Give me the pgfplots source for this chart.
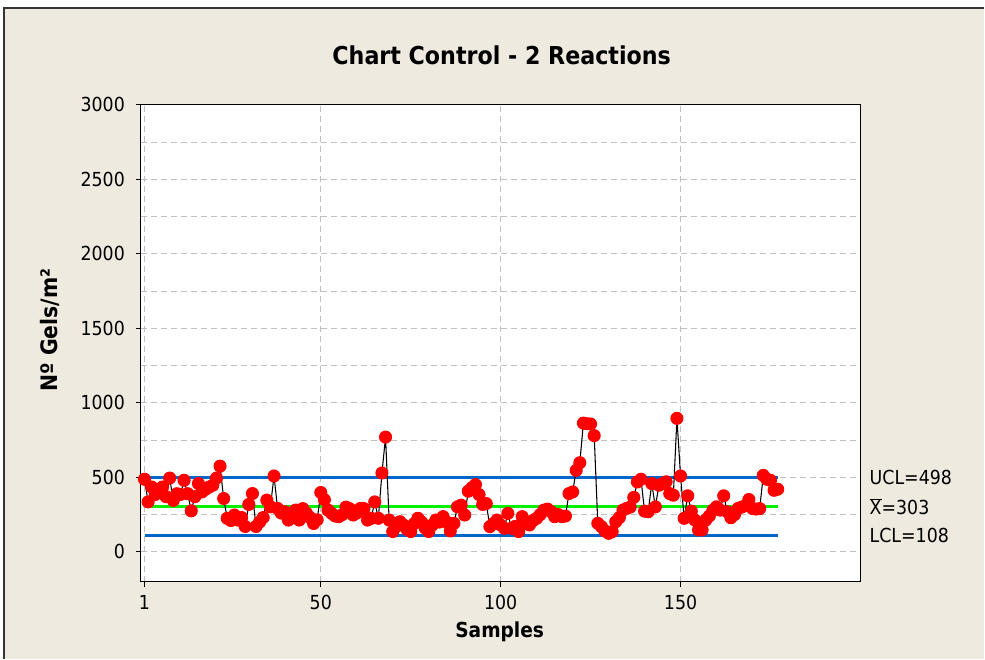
\documentclass[border=0pt]{standalone}
\usepackage{fontspec}
\setmainfont{DejaVu Sans Condensed}
\usepackage{pgfplots}
\pgfplotsset{compat=1.18}
\definecolor{bgbeige}{RGB}{238,234,224}
\definecolor{ctrlblue}{RGB}{0,102,204}
\definecolor{ctrlgreen}{RGB}{0,240,0}
\definecolor{gridgray}{RGB}{192,192,192}
\begin{document}
\begin{tikzpicture}
\fill[white] (-105.75pt,-57.75pt) rectangle (633pt,436.5pt);
\fill[bgbeige] (-102.75pt,-57.75pt) rectangle (633pt,430.5pt);
\draw[black!80, line width=1pt] (-102.75pt,-57.75pt) -- (-102.75pt,430.5pt) -- (633pt,430.5pt);
\begin{axis}[
  scale only axis,
  width=540pt, height=357.75pt,
  xmin=0, xmax=200, ymin=-200, ymax=3000,
  axis background/.style={fill=white},
  xtick={1,50,100,150},
  ytick={0,500,1000,1500,2000,2500,3000},
  minor ytick={-250,250,750,1250,1750,2250,2750},
  grid=both,
  major grid style={gridgray, dash pattern=on 4.5pt off 3pt, line width=0.8pt},
  minor grid style={gridgray, dash pattern=on 4.5pt off 3pt, line width=0.8pt},
  minor tick length=0pt,
  major tick length=4pt,
  tick align=outside,
  xtick pos=left, ytick pos=left,
  axis line style={black, line width=0.8pt},
  tick style={black, line width=0.8pt},
  /pgf/number format/assume math mode=true,
  /pgf/number format/1000 sep={},
  ticklabel style={font=\fontsize{14.5}{16}\selectfont},
  yticklabel style={xshift=-4.5pt},
  xticklabel style={yshift=-3pt},
  xlabel={\textbf{Samples}},
  ylabel={\textbf{Nº Gels/m²}},
  xlabel style={font=\fontsize{15.5}{17}\selectfont, at={([yshift=-37.5pt]axis description cs:0.4986,0)}, anchor=center},
  ylabel style={font=\fontsize{17}{19}\selectfont, at={([xshift=-68.25pt]axis description cs:0,0.528)}, anchor=center},
  clip=false,
]
\addplot[ctrlblue, line width=2.3pt] coordinates {(1,498) (177,498)};
\addplot[ctrlgreen, line width=2.3pt] coordinates {(1,303) (177,303)};
\addplot[ctrlblue, line width=2.3pt] coordinates {(1,108) (177,108)};
\addplot[black, line width=0.8pt, mark=*, mark size=4.5pt, mark options={fill=red, draw=red}] coordinates {
(1,487) (2,335) (3,435) (4,385) (5,410) (6,435) (7,370) (8,495) (9,345) (10,390)
(11,385) (12,480) (13,390) (14,275) (15,370) (16,458) (17,402) (18,420) (19,435) (20,447)
(21,495) (22,575) (23,358) (24,225) (25,210) (26,247) (27,213) (28,230) (29,170) (30,318)
(31,391) (32,170) (33,200) (34,230) (35,347) (36,302) (37,509) (38,291) (39,260) (40,269)
(41,213) (42,250) (43,280) (44,213) (45,290) (46,260) (47,230) (48,190) (49,215) (50,398)
(51,350) (52,280) (53,258) (54,240) (55,236) (56,250) (57,300) (58,290) (59,247) (60,260)
(61,291) (62,290) (63,213) (64,225) (65,335) (66,225) (67,529) (68,770) (69,213) (70,136)
(71,170) (72,202) (73,180) (74,150) (75,136) (76,190) (77,225) (78,200) (79,160) (80,136)
(81,180) (82,213) (83,200) (84,236) (85,200) (86,140) (87,191) (88,302) (89,313) (90,247)
(91,407) (92,430) (93,451) (94,384) (95,318) (96,324) (97,169) (98,190) (99,213) (100,180)
(101,158) (102,258) (103,158) (104,170) (105,136) (106,236) (107,200) (108,180) (109,210) (110,225)
(111,250) (112,280) (113,287) (114,270) (115,236) (116,250) (117,236) (118,240) (119,391) (120,402)
(121,547) (122,598) (123,864) (124,860) (125,858) (126,780) (127,191) (128,169) (129,140) (130,124)
(131,135) (132,202) (133,230) (134,280) (135,291) (136,300) (137,365) (138,469) (139,487) (140,273)
(141,269) (142,458) (143,302) (144,447) (145,458) (146,470) (147,391) (148,380) (149,896) (150,509)
(151,225) (152,376) (153,273) (154,213) (155,147) (156,147) (157,213) (158,240) (159,280) (160,302)
(161,280) (162,376) (163,269) (164,229) (165,250) (166,291) (167,300) (168,310) (169,351) (170,291)
(171,287) (172,290) (173,513) (174,487) (175,480) (176,413) (177,420)
};
\node[anchor=west, font=\fontsize{14.5}{16}\selectfont, inner sep=0pt, xshift=6.75pt] at (axis cs:200,498) {UCL=498};
\node[anchor=west, font=\fontsize{14.5}{16}\selectfont, inner sep=0pt, xshift=6.75pt] at (axis cs:200,303) {$\overline{\hbox{X}}$=303};
\node[anchor=west, font=\fontsize{14.5}{16}\selectfont, inner sep=0pt, xshift=6.75pt] at (axis cs:200,108) {LCL=108};
\end{axis}
\node[font=\fontsize{18.5}{21}\selectfont\bfseries] at (270.75pt,395.25pt) {Chart Control - 2 Reactions};
\end{tikzpicture}
\end{document}
